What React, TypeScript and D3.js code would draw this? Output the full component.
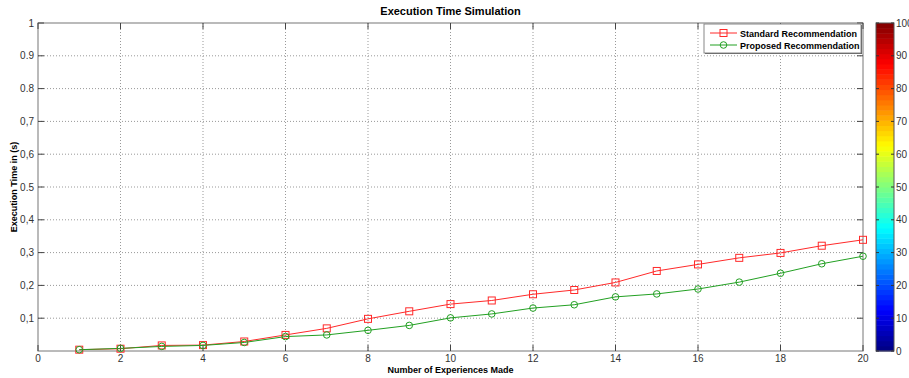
import * as d3 from 'd3'

// experiments 1..20
const experiences = [1, 2, 3, 4, 5, 6, 7, 8, 9, 10, 11, 12, 13, 14, 15, 16, 17, 18, 19, 20]
const standardTimes = [0.004, 0.007, 0.017, 0.018, 0.029, 0.049, 0.069, 0.098, 0.121, 0.143, 0.154, 0.173, 0.186, 0.209, 0.244, 0.264, 0.284, 0.299, 0.321, 0.339]
const proposedTimes = [0.004, 0.008, 0.014, 0.017, 0.026, 0.044, 0.049, 0.063, 0.078, 0.101, 0.113, 0.131, 0.141, 0.165, 0.174, 0.189, 0.21, 0.237, 0.266, 0.289]
const xTicks = [0, 2, 4, 6, 8, 10, 12, 14, 16, 18, 20]
const yTicks = [0.1, 0.2, 0.3, 0.4, 0.5, 0.6, 0.7, 0.8, 0.9, 1]
const yTickLabels = ['0,1', '0,2', '0,3', '0,4', '0.5', '0,6', '0,7', '0.8', '0.9', '1']
const colorbarTicks = [0, 10, 20, 30, 40, 50, 60, 70, 80, 90, 100]
const seriesNames = ['Standard Recommendation', 'Proposed Recommendation']

const W = 909
const H = 378
const m = { left: 38, right: 46, top: 23, bottom: 27 }
const font = '"Liberation Sans", Arial, sans-serif'
const RED = '#ff2a2a'
const GREEN = '#22a022'

// MATLAB jet colormap
function jet(t: number) {
  const c = (v: number) => Math.round(255 * Math.max(0, Math.min(1, v)))
  return `rgb(${c(1.5 - Math.abs(4 * t - 3))},${c(1.5 - Math.abs(4 * t - 2))},${c(1.5 - Math.abs(4 * t - 1))})`
}

export default function App() {
  const x = d3.scaleLinear().domain([0, 20]).range([m.left, W - m.right])
  const y = d3.scaleLinear().domain([0, 1]).range([H - m.bottom, m.top])
  const lineGen = d3
    .line<number>()
    .x((_, i) => x(experiences[i]))
    .y((v) => y(v))

  const cb = { x0: 876, x1: 894 }
  const cbScale = d3.scaleLinear().domain([0, 100]).range([H - m.bottom, m.top])
  const bands = d3.range(64)

  const legX = 704
  const legY = 24
  const legW = 157
  const legH = 29

  return (
    <div style={{ position: 'absolute', left: 0, top: 0 }}>
      <svg width={W} height={H} style={{ display: 'block', background: '#fff', fontFamily: font }}>
        {/* grid */}
        {xTicks.slice(1, -1).map((t) => (
          <line key={'gx' + t} x1={x(t)} x2={x(t)} y1={y(0)} y2={y(1)} stroke="#999" strokeDasharray="1,2" />
        ))}
        {yTicks.slice(0, -1).map((t) => (
          <line key={'gy' + t} x1={x(0)} x2={x(20)} y1={y(t)} y2={y(t)} stroke="#999" strokeDasharray="1,2" />
        ))}
        {/* box */}
        <rect x={x(0)} y={y(1)} width={x(20) - x(0)} height={y(0) - y(1)} fill="none" stroke="#777" />
        {/* ticks */}
        {xTicks.map((t) => (
          <g key={'tx' + t}>
            <line x1={x(t)} x2={x(t)} y1={y(0)} y2={y(0) - 6} stroke="#444" />
            <line x1={x(t)} x2={x(t)} y1={y(1)} y2={y(1) + 6} stroke="#444" />
            <text x={x(t)} y={y(0) + 11} textAnchor="middle" fontSize={10} fill="#333">
              {t}
            </text>
          </g>
        ))}
        {yTicks.map((t, i) => (
          <g key={'ty' + t}>
            <line x1={x(0)} x2={x(0) + 6} y1={y(t)} y2={y(t)} stroke="#444" />
            <line x1={x(20)} x2={x(20) - 6} y1={y(t)} y2={y(t)} stroke="#444" />
            <text x={x(0) - 4} y={y(t) + 3.5} textAnchor="end" fontSize={10} fill="#333">
              {yTickLabels[i]}
            </text>
          </g>
        ))}

        {/* series */}
        <path d={lineGen(standardTimes) ?? ''} fill="none" stroke={RED} strokeWidth={1} />
        <path d={lineGen(proposedTimes) ?? ''} fill="none" stroke={GREEN} strokeWidth={1} />
        {standardTimes.map((v, i) => (
          <rect key={'s' + i} x={x(experiences[i]) - 3.5} y={y(v) - 3.5} width={7} height={7} fill="none" stroke={RED} />
        ))}
        {proposedTimes.map((v, i) => (
          <circle key={'p' + i} cx={x(experiences[i])} cy={y(v)} r={3.3} fill="none" stroke={GREEN} />
        ))}

        {/* titles */}
        <text x={(x(0) + x(20)) / 2} y={15} textAnchor="middle" fontSize={11} fontWeight="bold">
          Execution Time Simulation
        </text>
        <text x={(x(0) + x(20)) / 2} y={373} textAnchor="middle" fontSize={9} fontWeight="bold">
          Number of Experiences Made
        </text>
        <text
          transform={`translate(17,${(y(0) + y(1)) / 2}) rotate(-90)`}
          textAnchor="middle"
          fontSize={9}
          fontWeight="bold"
        >
          Execution Time in (s)
        </text>

        {/* legend */}
        <rect x={legX + 1} y={legY + 1} width={legW} height={legH} fill="#555" />
        <rect x={legX} y={legY} width={legW} height={legH} fill="#fff" stroke="#888" />
        {seriesNames.map((name, i) => {
          const ly = legY + 9 + i * 12
          const col = i === 0 ? RED : GREEN
          return (
            <g key={name}>
              <line x1={legX + 6} x2={legX + 33} y1={ly} y2={ly} stroke={col} />
              {i === 0 ? (
                <rect x={legX + 16} y={ly - 3.5} width={7} height={7} fill="none" stroke={col} />
              ) : (
                <circle cx={legX + 19.5} cy={ly} r={3.3} fill="none" stroke={col} />
              )}
              <text x={legX + 36} y={ly + 3.5} fontSize={9} fontWeight="bold">
                {name}
              </text>
            </g>
          )
        })}

        {/* colorbar */}
        {bands.map((b) => (
          <rect
            key={'cb' + b}
            x={cb.x0}
            y={cbScale(((b + 1) * 100) / 64)}
            width={cb.x1 - cb.x0}
            height={cbScale((b * 100) / 64) - cbScale(((b + 1) * 100) / 64) + 0.5}
            fill={jet((b + 0.5) / 64)}
          />
        ))}
        <rect x={cb.x0} y={cbScale(100)} width={cb.x1 - cb.x0} height={cbScale(0) - cbScale(100)} fill="none" stroke="#555" />
        {colorbarTicks.map((t) => (
          <g key={'ct' + t}>
            <line x1={cb.x1} x2={cb.x1 - 3} y1={cbScale(t)} y2={cbScale(t)} stroke="#333" />
            <line x1={cb.x0} x2={cb.x0 + 3} y1={cbScale(t)} y2={cbScale(t)} stroke="#333" />
            <text x={cb.x1 + 2} y={cbScale(t) + 3.5} fontSize={10} fill="#333">
              {t}
            </text>
          </g>
        ))}
      </svg>
    </div>
  )
}
